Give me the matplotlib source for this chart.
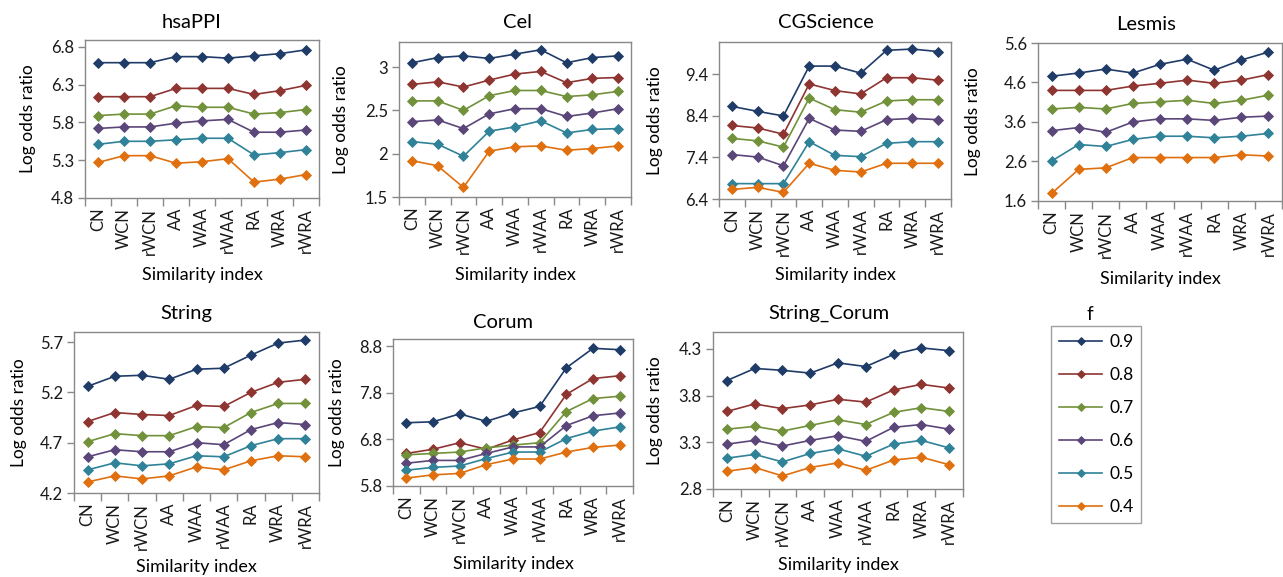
import matplotlib
matplotlib.use("Agg")
import matplotlib.pyplot as plt
from matplotlib.ticker import FormatStrFormatter

plt.rcParams['font.family'] = ['Lato', 'DejaVu Sans']

indices = ["CN", "WCN", "rWCN", "AA", "WAA", "rWAA", "RA", "WRA", "rWRA"]
f_values = ["0.9", "0.8", "0.7", "0.6", "0.5", "0.4"]
colores = ["#1F3B68", "#8E3532", "#71913A", "#5B4679", "#2F8298", "#E0700F"]

# log odds ratio por dataset, una fila por valor de f (0.9 ... 0.4)
hsappi = [
    [6.59, 6.59, 6.59, 6.67, 6.67, 6.65, 6.68, 6.71, 6.76],
    [6.14, 6.14, 6.14, 6.25, 6.25, 6.25, 6.17, 6.22, 6.29],
    [5.89, 5.91, 5.91, 6.02, 6.00, 6.00, 5.91, 5.93, 5.97],
    [5.72, 5.74, 5.74, 5.79, 5.82, 5.84, 5.67, 5.67, 5.70],
    [5.51, 5.55, 5.55, 5.57, 5.59, 5.59, 5.37, 5.40, 5.44],
    [5.27, 5.36, 5.36, 5.26, 5.28, 5.32, 5.01, 5.05, 5.11],
]
cel = [
    [3.05, 3.11, 3.13, 3.10, 3.15, 3.20, 3.05, 3.11, 3.13],
    [2.80, 2.83, 2.77, 2.85, 2.92, 2.95, 2.82, 2.87, 2.88],
    [2.61, 2.61, 2.50, 2.67, 2.73, 2.73, 2.66, 2.68, 2.72],
    [2.37, 2.39, 2.29, 2.46, 2.52, 2.52, 2.43, 2.47, 2.52],
    [2.14, 2.11, 1.97, 2.26, 2.31, 2.38, 2.24, 2.28, 2.29],
    [1.92, 1.86, 1.61, 2.03, 2.08, 2.09, 2.04, 2.06, 2.09],
]
cgscience = [
    [8.63, 8.51, 8.40, 9.60, 9.60, 9.43, 9.98, 10.01, 9.95],
    [8.17, 8.11, 7.96, 9.17, 9.01, 8.93, 9.32, 9.32, 9.26],
    [7.86, 7.80, 7.65, 8.83, 8.55, 8.49, 8.76, 8.79, 8.79],
    [7.47, 7.41, 7.20, 8.34, 8.06, 8.03, 8.31, 8.34, 8.31],
    [6.77, 6.77, 6.77, 7.78, 7.45, 7.42, 7.74, 7.78, 7.78],
    [6.63, 6.68, 6.56, 7.26, 7.09, 7.05, 7.26, 7.26, 7.26],
]
lesmis = [
    [4.76, 4.84, 4.94, 4.84, 5.06, 5.19, 4.91, 5.17, 5.37],
    [4.40, 4.40, 4.40, 4.51, 4.58, 4.66, 4.58, 4.66, 4.80],
    [3.93, 3.97, 3.93, 4.07, 4.11, 4.15, 4.07, 4.15, 4.28],
    [3.38, 3.46, 3.34, 3.60, 3.68, 3.68, 3.64, 3.72, 3.75],
    [2.61, 3.03, 2.98, 3.16, 3.24, 3.24, 3.20, 3.24, 3.31],
    [1.79, 2.40, 2.44, 2.70, 2.70, 2.70, 2.70, 2.77, 2.74],
]
string = [
    [5.26, 5.36, 5.37, 5.33, 5.43, 5.44, 5.57, 5.69, 5.72],
    [4.91, 5.00, 4.98, 4.97, 5.07, 5.06, 5.20, 5.30, 5.33],
    [4.71, 4.79, 4.77, 4.77, 4.86, 4.85, 5.00, 5.09, 5.09],
    [4.56, 4.63, 4.61, 4.61, 4.70, 4.68, 4.83, 4.90, 4.88],
    [4.43, 4.50, 4.47, 4.49, 4.57, 4.56, 4.67, 4.74, 4.74],
    [4.31, 4.37, 4.34, 4.37, 4.46, 4.43, 4.52, 4.57, 4.56],
]
corum = [
    [7.16, 7.18, 7.35, 7.19, 7.37, 7.51, 8.34, 8.76, 8.73],
    [6.50, 6.59, 6.73, 6.59, 6.79, 6.95, 7.77, 8.11, 8.17],
    [6.47, 6.50, 6.53, 6.62, 6.68, 6.73, 7.40, 7.68, 7.73],
    [6.29, 6.35, 6.35, 6.50, 6.64, 6.64, 7.10, 7.31, 7.37],
    [6.14, 6.20, 6.23, 6.39, 6.53, 6.53, 6.82, 6.98, 7.07],
    [5.97, 6.04, 6.07, 6.26, 6.38, 6.38, 6.53, 6.63, 6.68],
]
string_corum = [
    [3.96, 4.09, 4.07, 4.04, 4.15, 4.11, 4.24, 4.31, 4.28],
    [3.63, 3.71, 3.66, 3.70, 3.76, 3.73, 3.86, 3.92, 3.88],
    [3.44, 3.47, 3.42, 3.48, 3.54, 3.49, 3.62, 3.67, 3.63],
    [3.28, 3.32, 3.26, 3.32, 3.37, 3.31, 3.46, 3.49, 3.44],
    [3.13, 3.17, 3.09, 3.18, 3.23, 3.15, 3.28, 3.32, 3.24],
    [2.99, 3.03, 2.94, 3.03, 3.08, 3.00, 3.11, 3.14, 3.06],
]

W, H = 1283, 577
fig = plt.figure(figsize=(W / 100, H / 100), dpi=100)

# (titulo, datos, ymin, ymax, paso, formato, caja del area en px [izq, der, arriba, abajo],
#  centro del titulo, x de la etiqueta y, y de la etiqueta x)
paneles = [
    ("hsaPPI", hsappi, 4.8, 6.89, 0.5, "%.1f", (85, 319, 40, 198), (192, 23), 28, 275),
    ("Cel", cel, 1.5, 3.29, 0.5, "%g", (399, 631, 42, 197), (517, 22), 341, 275),
    ("CGScience", cgscience, 6.4, 10.18, 1.0, "%.1f", (719, 951, 42, 199), (826, 23), 655, 275),
    ("Lesmis", lesmis, 1.6, 5.6, 1.0, "%.1f", (1038, 1282, 43, 201), (1146, 24), 973, 279),
    ("String", string, 4.2, 5.80, 0.5, "%.1f", (74, 319, 332, 493), (186, 313), 19, 567),
    ("Corum", corum, 5.8, 8.96, 1.0, "%.1f", (393, 633, 339, 486), (503, 323), 337, 564),
    ("String_Corum", string_corum, 2.8, 4.48, 0.5, "%.1f", (713, 963, 332, 489), (829, 313), 655, 565),
]

gris = "#898989"
x = list(range(len(indices)))

for titulo, datos, ymin, ymax, paso, fmt, caja, pos_t, x_yl, y_xl in paneles:
    izq, der, arr, aba = caja
    ax = fig.add_axes([izq / W, 1 - aba / H, (der - izq) / W, (aba - arr) / H])
    for serie, color, etiqueta in zip(datos, colores, f_values):
        ax.plot(x, serie, color=color, lw=1.2, marker="D", markersize=5,
                markeredgewidth=0.6, label=etiqueta)
    ax.set_xlim(-0.5, len(indices) - 0.5)
    ax.set_ylim(ymin, ymax)
    ticks = []
    v = ymin
    while v <= ymax + 1e-9:
        ticks.append(round(v, 2))
        v += paso
    ax.set_yticks(ticks)
    ax.yaxis.set_major_formatter(FormatStrFormatter(fmt))
    ax.set_xticks(x)
    ax.set_xticklabels(indices, rotation=90, fontsize=12, color="#1a1a1a")
    ax.set_xticks([i - 0.5 for i in range(len(indices) + 1)], minor=True)
    ax.tick_params(axis="x", which="major", length=0, pad=7)
    ax.tick_params(axis="x", which="minor", length=6, width=1, color=gris)
    ax.tick_params(axis="y", length=5, width=1, color=gris, labelsize=12,
                   labelcolor="#1a1a1a", pad=3)
    for s in ax.spines.values():
        s.set_color(gris)
        s.set_linewidth(1)
    fig.text(pos_t[0] / W, 1 - pos_t[1] / H, titulo, ha="center", va="center", fontsize=14.5)
    fig.text(x_yl / W, 1 - ((arr + aba) / 2) / H, "Log odds ratio", rotation=90,
             ha="center", va="center", fontsize=12.5)
    fig.text(((izq + der) / 2) / W, 1 - y_xl / H, "Similarity index",
             ha="center", va="center", fontsize=13)

handles, labels = ax.get_legend_handles_labels()
leg = fig.legend(handles, labels, loc="upper left",
                 bbox_to_anchor=(1051 / W, 1 - 326 / H), fontsize=12.5,
                 frameon=True, fancybox=False, labelspacing=0.98,
                 handlelength=2.5, handletextpad=0.4, borderpad=0.45,
                 borderaxespad=0)
leg.get_frame().set_edgecolor(gris)
leg.get_frame().set_linewidth(1)
for h in leg.legend_handles:
    h.set_markersize(4)
fig.text(1090 / W, 1 - 315 / H, "f", ha="center", va="center", fontsize=13.5)

fig.savefig("out.png", dpi=100)
